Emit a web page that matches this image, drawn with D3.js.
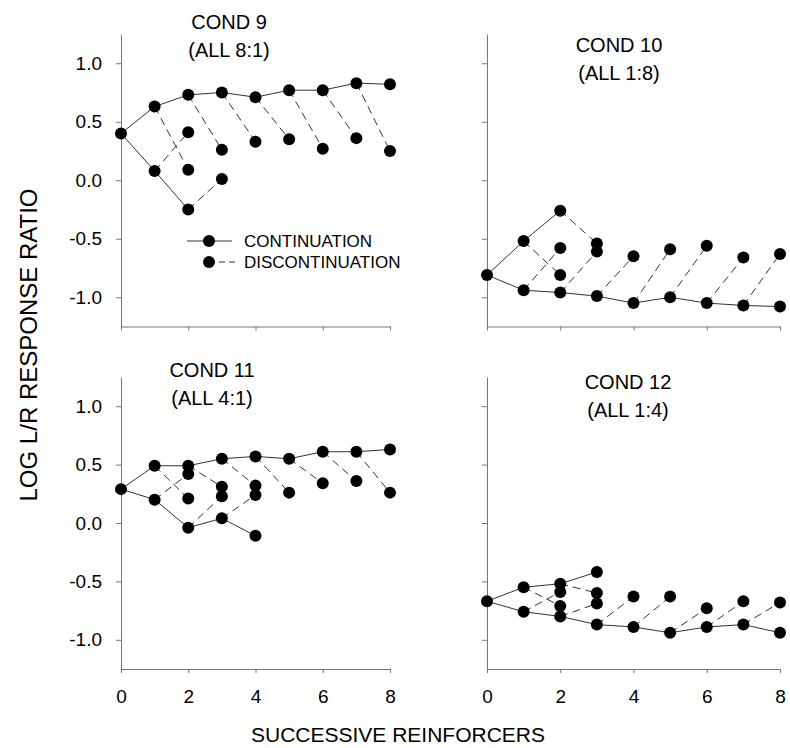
<!DOCTYPE html>
<html>
<head>
<meta charset="utf-8">
<script src="https://cdn.jsdelivr.net/npm/d3@7"></script>
<style>
  body { margin: 0; background: #fff; }
  text { font-family: "Liberation Sans", Arial, sans-serif; fill: #000; }
</style>
</head>
<body>
<svg id="chart" width="790" height="748"></svg>
<script>
// successive reinforcers on the x axis
const xTicks = [0, 2, 4, 6, 8];
const yTicks = [-1.0, -0.5, 0.0, 0.5, 1.0];

// continuation runs start at 0; discontinuation values start at reinforcer 2
const cond9ContL = [0.40, 0.63, 0.73, 0.75, 0.71, 0.77, 0.77, 0.83, 0.82];
const cond9ContR = [0.40, 0.08, -0.25];
const cond9DiscL = [0.09, 0.26, 0.33, 0.35, 0.27, 0.36, 0.25];
const cond9DiscR = [0.41, 0.01];

const cond10ContL = [-0.81, -0.52, -0.26];
const cond10ContR = [-0.81, -0.94, -0.96, -0.99, -1.05, -1.00, -1.05, -1.07, -1.08];
const cond10DiscL = [-0.81, -0.54];
const cond10DiscR = [-0.58, -0.61, -0.65, -0.59, -0.56, -0.66, -0.63];

const cond11ContL = [0.29, 0.49, 0.49, 0.55, 0.57, 0.55, 0.61, 0.61, 0.63];
const cond11ContR = [0.29, 0.20, -0.04, 0.04, -0.11];
const cond11DiscL = [0.21, 0.31, 0.32, 0.26, 0.34, 0.36, 0.26];
const cond11DiscR = [0.42, 0.23, 0.24];

const cond12ContL = [-0.67, -0.55, -0.52, -0.42];
const cond12ContR = [-0.67, -0.76, -0.80, -0.87, -0.89, -0.94, -0.89, -0.87, -0.94];
const cond12DiscL = [-0.71, -0.60];
const cond12DiscR = [-0.59, -0.69, -0.63, -0.63, -0.73, -0.67, -0.68];

const svg = d3.select('#chart');
const axisColor = '#777';
const lineColor = '#333';

const panels = [
  { title: 'COND 9', sub: '(ALL 8:1)', contL: cond9ContL, contR: cond9ContR, discL: cond9DiscL, discR: cond9DiscR,
    left: 121, right: 390, top: 34, bottom: 326.5, yLabels: true, xLabels: false, tx: 229, ty: 29, legend: true },
  { title: 'COND 10', sub: '(ALL 1:8)', contL: cond10ContL, contR: cond10ContR, discL: cond10DiscL, discR: cond10DiscR,
    left: 487, right: 780, top: 34, bottom: 326.5, yLabels: false, xLabels: false, tx: 619, ty: 52 },
  { title: 'COND 11', sub: '(ALL 4:1)', contL: cond11ContL, contR: cond11ContR, discL: cond11DiscL, discR: cond11DiscR,
    left: 121, right: 390, top: 377, bottom: 669, yLabels: true, xLabels: true, tx: 212, ty: 377 },
  { title: 'COND 12', sub: '(ALL 1:4)', contL: cond12ContL, contR: cond12ContR, discL: cond12DiscL, discR: cond12DiscR,
    left: 487, right: 780, top: 377, bottom: 669, yLabels: false, xLabels: true, tx: 628, ty: 389 }
];

panels.forEach(p => {
  const x = d3.scaleLinear().domain([0, 8]).range([p.left, p.right]);
  const y = d3.scaleLinear().domain([-1.25, 1.25]).range([p.bottom, p.top]);
  const g = svg.append('g');

  // axes
  const yAxis = d3.axisLeft(y).tickValues(yTicks).tickSize(5).tickSizeOuter(0).tickPadding(14)
    .tickFormat(d => p.yLabels ? d.toFixed(1) : '');
  const xAxis = d3.axisBottom(x).tickValues(xTicks).tickSize(4).tickSizeOuter(0).tickPadding(17)
    .tickFormat(d => p.xLabels ? d : '');

  const ya = g.append('g').attr('transform', `translate(${p.left},0)`).call(yAxis);
  const xa = g.append('g').attr('transform', `translate(0,${p.bottom})`).call(xAxis);
  [ya, xa].forEach(a => {
    a.select('.domain').attr('stroke', axisColor);
    a.selectAll('.tick line').attr('stroke', axisColor);
    a.selectAll('text').attr('font-size', 19).attr('font-family', '"Liberation Sans", Arial, sans-serif');
  });

  // continuation lines
  const line = d3.line().x((d, i) => x(i)).y(d => y(d));
  [p.contL, p.contR].forEach(run => {
    g.append('path').attr('d', line(run))
      .attr('fill', 'none').attr('stroke', lineColor).attr('stroke-width', 1);
  });

  // discontinuation segments: from run value at k-1 to value at k
  const segs = [];
  p.discL.forEach((v, i) => segs.push({ x0: i + 1, y0: p.contL[i + 1], x1: i + 2, y1: v }));
  p.discR.forEach((v, i) => segs.push({ x0: i + 1, y0: p.contR[i + 1], x1: i + 2, y1: v }));
  g.selectAll('line.disc').data(segs).enter().append('line')
    .attr('class', 'disc')
    .attr('x1', d => x(d.x0)).attr('y1', d => y(d.y0))
    .attr('x2', d => x(d.x1)).attr('y2', d => y(d.y1))
    .attr('stroke', lineColor).attr('stroke-width', 1).attr('stroke-dasharray', '8,5');

  // points
  const pts = [];
  p.contL.forEach((v, i) => pts.push({ x: i, y: v }));
  p.contR.forEach((v, i) => { if (i > 0) pts.push({ x: i, y: v }); });
  p.discL.forEach((v, i) => pts.push({ x: i + 2, y: v }));
  p.discR.forEach((v, i) => pts.push({ x: i + 2, y: v }));
  g.selectAll('circle').data(pts).enter().append('circle')
    .attr('cx', d => x(d.x)).attr('cy', d => y(d.y)).attr('r', 6).attr('fill', '#000');

  // titles
  g.append('text').attr('x', p.tx).attr('y', p.ty).attr('text-anchor', 'middle')
    .attr('font-size', 20).text(p.title);
  g.append('text').attr('x', p.tx).attr('y', p.ty + 28).attr('text-anchor', 'middle')
    .attr('font-size', 20).text(p.sub);

  if (p.legend) {
    const lg = g.append('g');
    lg.append('line').attr('x1', 187).attr('x2', 232).attr('y1', 241).attr('y2', 241)
      .attr('stroke', lineColor);
    lg.append('circle').attr('cx', 209).attr('cy', 241).attr('r', 6);
    lg.append('text').attr('x', 244).attr('y', 247).attr('font-size', 17).text('CONTINUATION');
    lg.append('line').attr('x1', 209).attr('x2', 238).attr('y1', 262).attr('y2', 262)
      .attr('stroke', lineColor).attr('stroke-dasharray', '6,4');
    lg.append('circle').attr('cx', 209).attr('cy', 262).attr('r', 6);
    lg.append('text').attr('x', 244).attr('y', 268).attr('font-size', 17).text('DISCONTINUATION');
  }
});

// axis titles
svg.append('text').attr('transform', 'translate(37,345) rotate(-90)')
  .attr('text-anchor', 'middle').attr('font-size', 24).text('LOG L/R RESPONSE RATIO');
svg.append('text').attr('x', 398).attr('y', 742)
  .attr('text-anchor', 'middle').attr('font-size', 21).text('SUCCESSIVE REINFORCERS');
</script>
</body>
</html>
